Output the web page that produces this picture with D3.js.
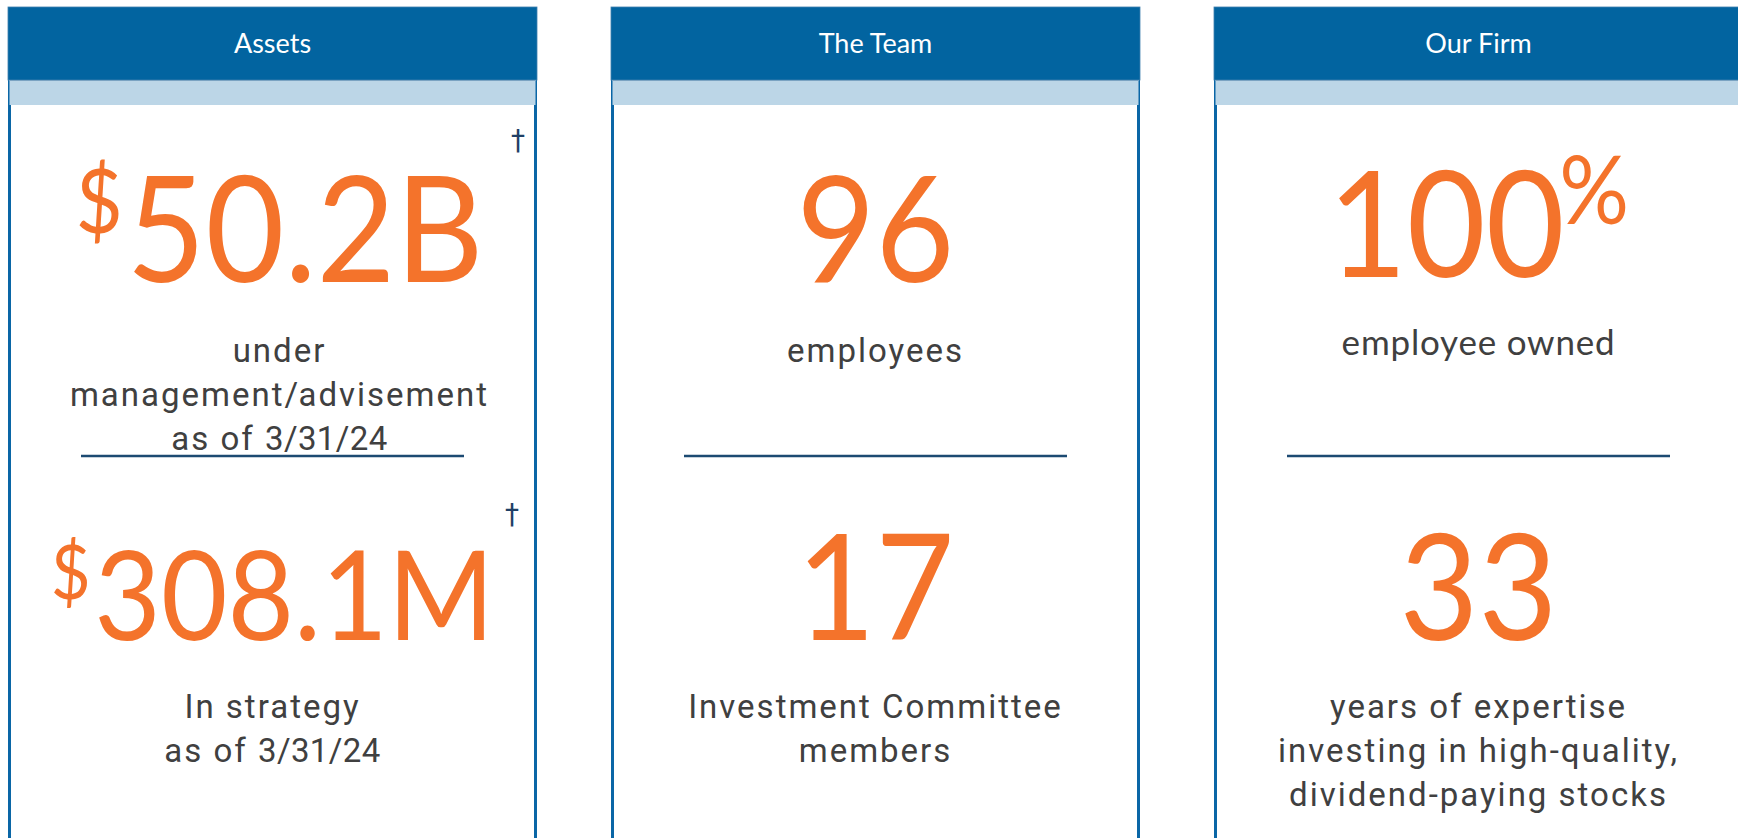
<!DOCTYPE html>
<html>
<head>
<meta charset="utf-8">
<script src="https://cdn.jsdelivr.net/npm/d3@7"></script>
<style>
  body { margin:0; background:#fff; }
  svg { display:block; }
</style>
</head>
<body>
<div id="chart"></div>
<script>
// panels and their stats
var panelTitles = ["Assets", "The Team", "Our Firm"];
var statPanel  = ["Assets", "Assets", "The Team", "The Team", "Our Firm", "Our Firm"];
var statRow    = [0, 1, 0, 1, 0, 1];
var statPrefix = ["$", "$", "", "", "", ""];
var statValue  = ["50.2B", "308.1M", "96", "17", "100", "33"];
var statSuffix = ["", "", "", "", "%", ""];
var statDagger = [true, true, false, false, false, false];
var statNotes  = [
  ["under", "management/advisement", "as of 3/31/24"],
  ["In strategy", "as of 3/31/24"],
  ["employees"],
  ["Investment Committee", "members"],
  ["employee owned"],
  ["years of expertise", "investing in high-quality,", "dividend-paying stocks"]
];

var width = 1738, height = 838;
var blue = "#0264a0", pale = "#bcd6e7", orange = "#f4732b", grey = "#404040", navy = "#1c4a72";

var svg = d3.select("#chart").append("svg").attr("width", width).attr("height", height);

var x = d3.scaleBand().domain(panelTitles).range([8, 1743]).paddingInner(74/603).paddingOuter(0);
// small nudges of the upper stat in each panel
var shiftX = d3.scaleOrdinal().domain(panelTitles).range([7, 0, 0]);
var shiftY = d3.scaleOrdinal().domain(panelTitles).range([0, 0, -5]);
var rowNum  = d3.scaleOrdinal().domain([0,1]).range([282, 640]);
var rowNote = d3.scaleOrdinal().domain([0,1]).range([362, 718]);
var rowDag  = d3.scaleOrdinal().domain([0,1]).range([150, 524]);
var bw = x.bandwidth();

var panels = svg.selectAll("g.panel").data(panelTitles).enter().append("g")
  .attr("class", "panel")
  .attr("transform", function(d){ return "translate(" + x(d) + ",0)"; });

panels.append("line")
  .attr("x1", 1.5).attr("x2", 1.5).attr("y1", 72).attr("y2", height)
  .attr("stroke", "#0a66a6").attr("stroke-width", 3);
panels.append("line")
  .attr("x1", bw - 1.5).attr("x2", bw - 1.5).attr("y1", 72).attr("y2", height)
  .attr("stroke", "#0a66a6").attr("stroke-width", 3);
panels.append("rect")
  .attr("x", 0).attr("y", 7).attr("width", bw).attr("height", 73)
  .attr("fill", blue).attr("stroke", "#3f7fae").attr("stroke-width", 0.8);
panels.append("rect")
  .attr("x", 1.5).attr("y", 80).attr("width", bw - 3).attr("height", 25)
  .attr("fill", pale);
panels.append("line")
  .attr("x1", 1.5).attr("x2", bw - 1.5).attr("y1", 80.5).attr("y2", 80.5)
  .attr("stroke", "#7aa3c2").attr("stroke-width", 1);
panels.append("text")
  .attr("x", bw/2).attr("y", 53)
  .attr("text-anchor", "middle")
  .attr("font-family", "Lato")
  .attr("font-size", 27)
  .attr("fill", "#fff")
  .text(function(d){ return d; });

// divider between the two rows
panels.append("line")
  .attr("x1", bw/2 - 191.5).attr("x2", bw/2 + 191.5)
  .attr("y1", 456).attr("y2", 456)
  .attr("stroke", navy).attr("stroke-width", 2.5);

var stats = statValue.map(function(v, i){
  var top = statRow[i] == 0;
  return {panel: statPanel[i], row: statRow[i], pre: statPrefix[i], val: v,
          suf: statSuffix[i], dagger: statDagger[i], notes: statNotes[i],
          dx: top ? shiftX(statPanel[i]) : 0, dy: top ? shiftY(statPanel[i]) : 0};
});

var sg = svg.selectAll("g.stat").data(stats).enter().append("g")
  .attr("class", "stat")
  .attr("transform", function(d){ return "translate(" + (x(d.panel) + bw/2) + ",0)"; });

// big orange figure, squeezed a little to mimic a narrow face
var sx = 0.92;
var big = sg.append("g")
  .attr("transform", function(d){ return "translate(" + d.dx + "," + (rowNum(d.row) + d.dy) + ") scale(" + sx + ",1)"; })
  .append("text")
  .attr("x", 0).attr("y", 0)
  .attr("text-anchor", "middle")
  .attr("font-family", "Lato")
  .attr("fill", orange);

big.each(function(d){
  var t = d3.select(this);
  var size = 148;
  var build = function(s){
    t.selectAll("tspan").remove();
    t.attr("font-size", s);
    if (d.pre) t.append("tspan").attr("font-size", s*0.6).attr("dy", -s*0.33).text(d.pre);
    t.append("tspan").attr("dy", d.pre ? s*0.33 : 0).attr("dx", d.pre ? 4 : 0).text(d.val);
    if (d.suf) t.append("tspan").attr("font-size", s*0.64).attr("dy", -s*0.36).attr("dx", -6).text(d.suf);
  };
  build(size);
  var w = this.getComputedTextLength();
  var maxW = 440 / sx;
  if (w > maxW) { size = size * maxW / w; build(size); }
});

sg.filter(function(d){ return d.dagger; }).append("text")
  .attr("x", function(d){ return bw/2 - (d.row ? 25 : 19); })
  .attr("y", function(d){ return rowDag(d.row); })
  .attr("text-anchor", "middle")
  .attr("font-family", "DejaVu Sans")
  .attr("font-size", 28)
  .attr("fill", "#1f3f66")
  .text("\u2020");

// caption lines; figures and slashes are set tighter than the letters
sg.each(function(d){
  var g = d3.select(this);
  var lato = d.notes.length == 1 && d.notes[0] == "employee owned";
  var lines = g.selectAll("text.note").data(d.notes).enter().append("text")
    .attr("class", "note")
    .attr("x", d.dx)
    .attr("y", function(n, j){ return rowNote(d.row) + d.dy*1.5 + j*44; })
    .attr("text-anchor", "middle")
    .attr("font-family", lato ? "Lato" : "Roboto")
    .attr("font-size", lato ? 35 : 33)
    .attr("fill", grey);
  lines.each(function(n){
    var t = d3.select(this);
    var runs = n.match(/[0-9\/]+|[^0-9\/]+/g);
    runs.forEach(function(r){
      t.append("tspan")
        .style("letter-spacing", (lato ? 0.8 : (/[0-9\/]/.test(r) ? 0.4 : 2)) + "px")
        .text(r);
    });
  });
});
</script>
</body>
</html>
